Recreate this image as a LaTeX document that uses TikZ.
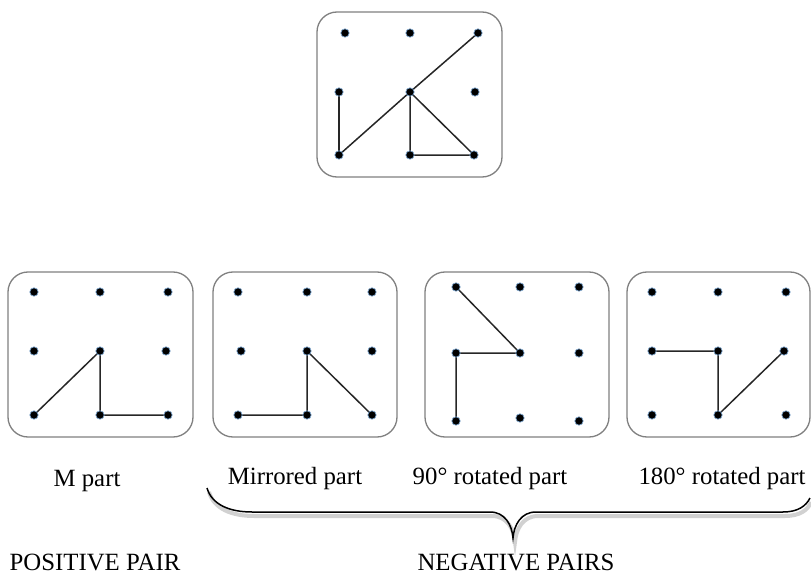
\documentclass[tikz,border=0pt]{standalone}
\usepackage{fontspec}
\setmainfont{Liberation Serif}
\usetikzlibrary{backgrounds}
\definecolor{boxgray}{HTML}{808080}
\definecolor{halo}{HTML}{7FA7D0}
\tikzset{
  dot/.style={circle,fill=black,draw=halo,line width=0.35pt,inner sep=0pt,minimum size=4.2pt},
  panel/.style={draw=boxgray,line width=0.65pt,rounded corners=10pt},
  edge/.style={draw=black!85,line width=0.75pt},
  lbl/.style={font=\fontsize{12.4}{14}\selectfont,inner sep=0pt,anchor=center},
  bracestyle/.style={draw=black,line width=0.75pt},
  braceshadow/.style={draw=black!18,line width=2pt}
}
\begin{document}
\begin{tikzpicture}[x=0.5pt,y=-0.5pt]
\useasboundingbox (0,0) rectangle (811,573);
% panels
\draw[panel] (317,12) rectangle (502,177);
\draw[panel] (8,272) rectangle (193,437);
\draw[panel] (213,272) rectangle (397,437);
\draw[panel] (425,272) rectangle (609,437);
\draw[panel] (627,272) rectangle (810,437);
% top grid
\node[dot] (t11) at (345,33) {}; \node[dot] (t12) at (410,33) {}; \node[dot] (t13) at (478,33) {};
\node[dot] (t21) at (339,92) {}; \node[dot] (t22) at (410,92) {}; \node[dot] (t23) at (475,92) {};
\node[dot] (t31) at (339,155) {}; \node[dot] (t32) at (410,155) {}; \node[dot] (t33) at (474,155) {};
% grid A
\node[dot] (a11) at (34,292) {}; \node[dot] (a12) at (100,292) {}; \node[dot] (a13) at (168,292) {};
\node[dot] (a21) at (34,351) {}; \node[dot] (a22) at (100,351) {}; \node[dot] (a23) at (166,351) {};
\node[dot] (a31) at (34,415) {}; \node[dot] (a32) at (100,415) {}; \node[dot] (a33) at (168,415) {};
% grid B
\node[dot] (b11) at (238,292) {}; \node[dot] (b12) at (307,292) {}; \node[dot] (b13) at (372,292) {};
\node[dot] (b21) at (241,351) {}; \node[dot] (b22) at (307,351) {}; \node[dot] (b23) at (372,351) {};
\node[dot] (b31) at (238,415) {}; \node[dot] (b32) at (307,415) {}; \node[dot] (b33) at (372,415) {};
% grid C
\node[dot] (c11) at (456,287) {}; \node[dot] (c12) at (520,287) {}; \node[dot] (c13) at (579,287) {};
\node[dot] (c21) at (456,353) {}; \node[dot] (c22) at (520,353) {}; \node[dot] (c23) at (579,353) {};
\node[dot] (c31) at (456,421) {}; \node[dot] (c32) at (520,418) {}; \node[dot] (c33) at (579,421) {};
% grid D
\node[dot] (d11) at (652,292) {}; \node[dot] (d12) at (718,292) {}; \node[dot] (d13) at (786,292) {};
\node[dot] (d21) at (652,351) {}; \node[dot] (d22) at (718,351) {}; \node[dot] (d23) at (784,351) {};
\node[dot] (d31) at (652,415) {}; \node[dot] (d32) at (718,415) {}; \node[dot] (d33) at (786,415) {};
% edges
\begin{scope}[on background layer]
\draw[edge] (t21.center) -- (t31.center);
\draw[edge] (t31.center) -- (t22.center) -- (t13.center);
\draw[edge] (t22.center) -- (t32.center) -- (t33.center) -- (t22.center);
\draw[edge] (a31.center) -- (a22.center) -- (a32.center) -- (a33.center);
\draw[edge] (b31.center) -- (b32.center) -- (b22.center) -- (b33.center);
\draw[edge] (c11.center) -- (c22.center) -- (c21.center) -- (c31.center);
\draw[edge] (d21.center) -- (d22.center) -- (d32.center) -- (d23.center);
\end{scope}
% brace shadow and brace
\draw[braceshadow] (209,492) .. controls (214,509) and (232,516) .. (254,516) -- (492,516)
  .. controls (507,516) and (514,529) .. (515,542) .. controls (516,529) and (523,516) .. (538,516)
  -- (785,516) .. controls (800,516) and (808,510) .. (811,502);
\draw[bracestyle] (207,488) .. controls (212,505) and (230,512) .. (252,512) -- (490,512)
  .. controls (505,512) and (512,525) .. (513,538) .. controls (514,525) and (521,512) .. (536,512)
  -- (783,512) .. controls (798,512) and (806,506) .. (810,498);
% labels
\node[lbl] (lm) at (87,481) {M part};
\node[lbl] (lmir) at (295,479) {Mirrored part};
\node[lbl] (l90) at (490,479) {90° rotated part};
\node[lbl] (l180) at (722,479) {180° rotated part};
\node[lbl] (lpos) at (95,562) {POSITIVE PAIR};
\node[lbl] (lneg) at (516,562) {NEGATIVE PAIRS};
\end{tikzpicture}
\end{document}
